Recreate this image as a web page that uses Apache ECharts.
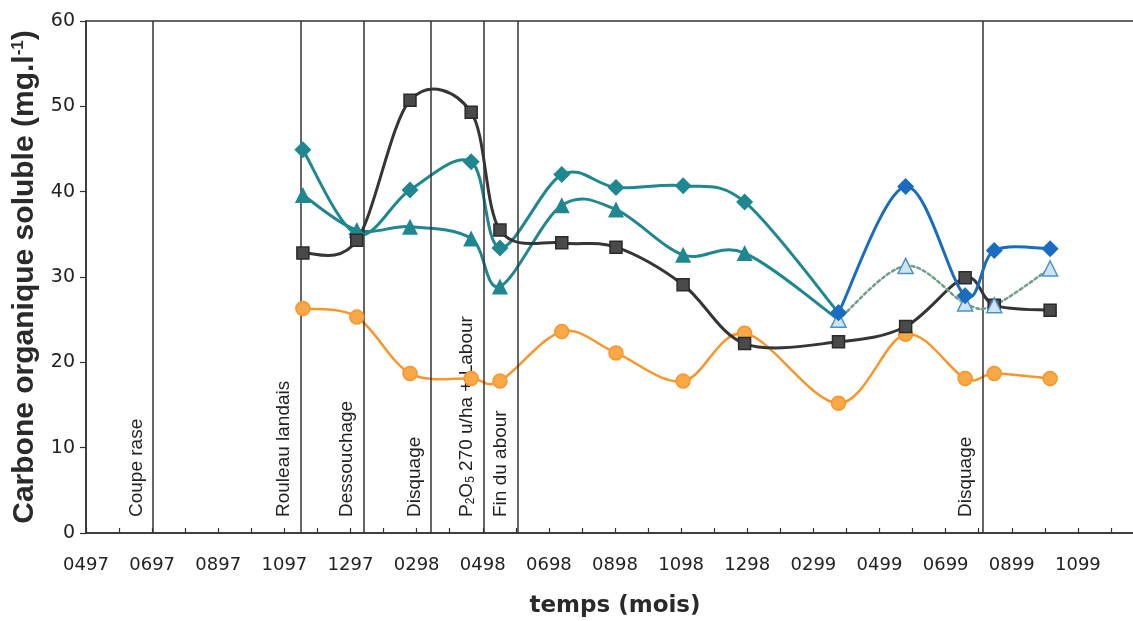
<!DOCTYPE html>
<html>
<head>
<meta charset="utf-8">
<script src="https://cdn.jsdelivr.net/npm/echarts@6/dist/echarts.min.js"></script>
<style>
html,body{margin:0;padding:0;background:#fff;}
#chart{width:1133px;height:621px;}
</style>
</head>
<body>
<div id="chart"></div>
<script>
// month index: 0 = 0497 (avril 1997)
var tickLabels = ['0497','0697','0897','1097','1297','0298','0498','0698','0898','1098','1298','0299','0499','0699','0899','1099'];
var sampleMonths = [6.56, 8.19, 9.8, 11.65, 12.52, 14.39, 16.03, 18.06, 19.92, 22.76, 24.79, 26.59, 27.47, 29.16];
var diamondTeal  = [44.9, 35.0, 40.2, 43.5, 33.4, 42.0, 40.5, 40.7, 38.8, 25.8];
var triangleTeal = [39.6, 35.5, 35.9, 34.5, 28.9, 38.4, 37.9, 32.6, 32.8, 25.0];
var squareDark   = [32.8, 34.3, 50.7, 49.3, 35.5, 34.0, 33.5, 29.1, 22.2, 22.4, 24.2, 29.9, 26.7, 26.1];
var circleOrange = [26.3, 25.3, 18.7, 18.1, 17.8, 23.6, 21.1, 17.8, 23.4, 15.2, 23.3, 18.1, 18.7, 18.1];
var diamondBlue  = [25.8, 40.6, 27.8, 33.1, 33.3];     // samples 10-14
var triangleGreen = [25.0, 31.3, 26.9, 26.7, 31.0];    // samples 10-14
var eventNames = ['Coupe rase','Rouleau landais','Dessouchage','Disquage','P{sub|2}O{sub|5} 270 u/ha + Labour','Fin du abour','Disquage'];
var eventMonths = [2.03, 6.49, 8.39, 10.43, 12.02, 13.05, 27.12];

function pairs(xs, ys, offset) {
  return ys.map(function (v, i) { return [xs[i + offset], v]; });
}

// Spreadsheet-style smoothed curve (Catmull-Rom Bezier segments) drawn through the axes' scales
function curveSeries(pts, color, width, dash, z) {
  return {
    type: 'custom', data: pts, z: z, silent: true, clip: true,
    encode: {x: 0, y: 1},
    renderItem: function (params, api) {
      var i = params.dataIndex;
      if (i >= pts.length - 1) return null;
      var c = function (k) { k = Math.max(0, Math.min(pts.length - 1, k)); return api.coord(pts[k]); };
      var p0 = c(i - 1), p1 = c(i), p2 = c(i + 1), p3 = c(i + 2);
      var t = 1 / 6;
      return {
        type: 'bezierCurve',
        shape: {
          x1: p1[0], y1: p1[1], x2: p2[0], y2: p2[1],
          cpx1: p1[0] + (p2[0] - p0[0]) * t, cpy1: p1[1] + (p2[1] - p0[1]) * t,
          cpx2: p2[0] - (p3[0] - p1[0]) * t, cpy2: p2[1] - (p3[1] - p1[1]) * t
        },
        style: {stroke: color, lineWidth: width, fill: null, lineDash: dash || null, lineCap: 'round'}
      };
    }
  };
}

function markerSeries(pts, symbol, size, itemStyle, z) {
  itemStyle.opacity = 1;
  return {type: 'scatter', data: pts, symbol: symbol, symbolSize: size, itemStyle: itemStyle, z: z, silent: true};
}

var chart = echarts.init(document.getElementById('chart'), null, {renderer: 'canvas'});

var teal = '#1f8790', blue = '#1a6cc0', dark = '#353535', orange = '#f8962a';

var pOrange = pairs(sampleMonths, circleOrange, 0);
var pTriTeal = pairs(sampleMonths, triangleTeal, 0);
var pDiaTeal = pairs(sampleMonths, diamondTeal, 0);
var pSquare = pairs(sampleMonths, squareDark, 0);
var pTriGreen = pairs(sampleMonths, triangleGreen, 9);
var pDiaBlue = pairs(sampleMonths, diamondBlue, 9);

var option = {
  animation: false,
  backgroundColor: '#fff',
  grid: {left: 86, top: 21, bottom: 88, right: -11, show: true, borderColor: '#333', borderWidth: 1.5,
         containLabel: false, outerBoundsMode: 'none'},
  xAxis: {
    type: 'value', min: 0, max: 32, interval: 1,
    name: 'temps (mois)', nameLocation: 'middle', nameGap: 62,
    nameTextStyle: {fontFamily: 'DejaVu Sans', fontWeight: 'bold', fontSize: 23, color: '#2a2a2a'},
    axisLine: {show: true, lineStyle: {color: '#333', width: 1.5}},
    axisTick: {show: true, inside: true, length: 5, lineStyle: {color: '#333', width: 1.2}},
    splitLine: {show: false},
    axisLabel: {
      margin: 23, fontFamily: 'DejaVu Sans', fontSize: 18, color: '#222',
      showMinLabel: true, showMaxLabel: false,
      formatter: function (v) { return (v % 2 === 0 && v / 2 < tickLabels.length) ? tickLabels[v / 2] : ''; }
    }
  },
  yAxis: {
    type: 'value', min: 0, max: 60, interval: 10,
    name: 'Carbone organique soluble (mg.l{sup|-1})', nameLocation: 'middle', nameGap: 43,
    nameTextStyle: {fontFamily: 'Liberation Sans', fontWeight: 'bold', fontSize: 30, color: '#2a2a2a',
      rich: {sup: {fontFamily: 'Liberation Sans', fontWeight: 'bold', fontSize: 17, color: '#2a2a2a', padding: [0, 0, 14, 0]}}},
    axisLine: {show: true, lineStyle: {color: '#333', width: 1.5}},
    axisTick: {show: true, inside: false, length: 6, lineStyle: {color: '#333', width: 1.2}},
    splitLine: {show: false},
    axisLabel: {margin: 11, fontFamily: 'DejaVu Sans', fontSize: 19, color: '#222'}
  },
  series: [
    {
      name: 'events', type: 'line', data: [], silent: true,
      markLine: {
        silent: true, symbol: ['none', 'none'], animation: false,
        lineStyle: {color: '#333', width: 1.5, type: 'solid'},
        emphasis: {disabled: true},
        label: {
          show: true, position: 'insideStartTop', distance: [16, 7],
          fontFamily: 'Liberation Sans', fontSize: 19, color: '#222',
          rich: {sub: {fontFamily: 'Liberation Sans', fontSize: 12, color: '#222', verticalAlign: 'bottom', padding: [6, 0, 0, 0]}}
        },
        data: eventMonths.map(function (m, i) { return {xAxis: m, label: {formatter: eventNames[i]}}; })
      }
    },
    curveSeries(pOrange, orange, 2.5, null, 3),
    curveSeries(pTriTeal, teal, 3, null, 4),
    curveSeries(pDiaTeal, teal, 3, null, 4),
    curveSeries(pSquare, dark, 3, null, 5),
    curveSeries(pTriGreen, '#6f9f86', 2.5, [3, 3], 6),
    curveSeries(pDiaBlue, blue, 3, null, 7),
    markerSeries(pOrange, 'circle', 14, {color: '#f9a848', borderColor: orange, borderWidth: 1.5}, 10),
    markerSeries(pTriTeal, 'triangle', 16, {color: teal}, 10),
    markerSeries(pDiaTeal, 'diamond', 17, {color: teal}, 10),
    markerSeries(pSquare, 'rect', 12, {color: '#4a4a4a', borderColor: '#2a2a2a', borderWidth: 1.5}, 11),
    markerSeries(pTriGreen, 'triangle', 15, {color: '#cfe4ee', borderColor: '#4c92c8', borderWidth: 1.5}, 12),
    markerSeries(pDiaBlue, 'diamond', 17, {color: blue}, 13)
  ]
};
chart.setOption(option);
</script>
</body>
</html>
